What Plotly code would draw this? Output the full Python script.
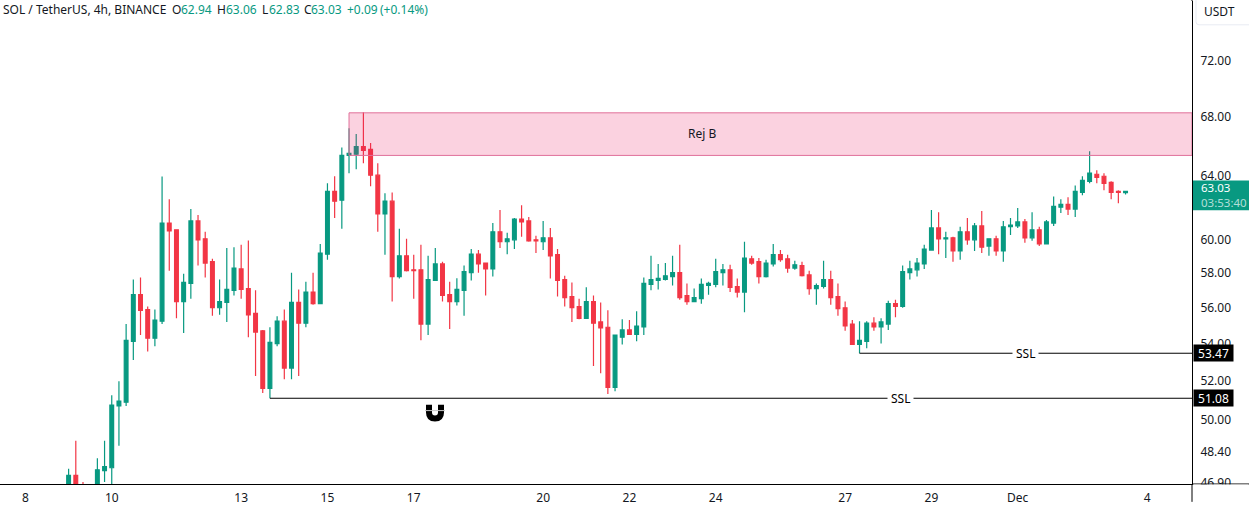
import math

import pandas as pd
import plotly.graph_objects as go

WIDTH, HEIGHT = 1249, 506
PANE_R, PANE_T, PANE_B = 1192, 1, 488
FONT = "Noto Sans"
TEXT = "#131722"
GREEN = "#089981"
RED = "#F23645"

# 4h candles, first visible one is Nov 9 00:00
times = pd.date_range("2023-11-09 00:00", periods=148, freq="4h")
opens = [
    46.40, 47.23, 46.50, 46.20, 46.60, 47.46, 47.60, 50.68, 50.88, 54.12,
    56.75, 55.90, 54.29, 55.24, 61.03, 60.61, 56.35, 57.40, 61.16, 60.06,
    58.68, 56.00, 56.30, 57.00, 58.25, 57.10, 55.68, 54.70, 51.60, 54.00,
    55.24, 52.67, 56.30, 55.13, 56.90, 56.23, 59.13, 63.03, 62.46, 65.37,
    65.45, 65.96, 65.77, 64.07, 61.60, 62.40, 57.80, 59.03, 58.20, 58.20,
    55.08, 57.57, 58.55, 56.75, 56.35, 57.00, 58.03, 59.13, 58.60, 58.25,
    60.49, 59.88, 60.00, 61.28, 61.16, 60.00, 59.88, 60.12, 59.10, 57.63,
    56.64, 56.07, 55.40, 56.35, 55.20, 54.90, 51.65, 54.35, 54.75, 54.50,
    54.92, 57.34, 57.57, 57.63, 57.80, 58.03, 56.70, 56.35, 56.52, 57.28,
    57.34, 58.03, 58.20, 57.22, 56.90, 58.85, 58.68, 57.80, 58.55, 59.10,
    58.85, 58.30, 58.45, 57.90, 57.10, 57.22, 57.63, 56.64, 56.00, 55.08,
    53.95, 54.12, 55.13, 54.92, 55.08, 56.23, 56.07, 58.03, 58.20, 58.55,
    59.38, 60.73, 60.06, 60.12, 59.32, 60.49, 60.00, 60.85, 59.62, 60.06,
    59.32, 60.80, 60.85, 61.10, 60.12, 60.61, 59.75, 61.03, 62.02, 62.20,
    61.90, 62.96, 63.67, 64.13, 64.00, 63.61, 63.03, 62.94,
]
highs = [
    47.55, 48.92, 46.92, 46.70, 48.06, 48.92, 51.24, 51.97, 55.08, 57.63,
    57.75, 56.07, 55.90, 63.99, 62.52, 60.61, 57.97, 61.90, 61.53, 60.49,
    58.85, 57.63, 59.50, 59.55, 59.70, 59.95, 57.00, 54.75, 54.90, 55.52,
    55.90, 58.03, 57.05, 57.50, 58.03, 59.75, 63.54, 64.00, 65.90, 67.20,
    66.80, 68.30, 66.20, 64.85, 62.90, 62.96, 60.67, 60.06, 59.10, 59.70,
    59.03, 59.50, 58.68, 57.50, 57.70, 58.45, 59.44, 59.38, 58.60, 61.03,
    61.84, 60.43, 61.35, 62.15, 61.41, 60.24, 61.16, 60.73, 59.44, 57.85,
    57.46, 56.52, 57.17, 56.70, 56.30, 55.85, 54.50, 55.35, 55.30, 55.80,
    57.75, 59.03, 58.55, 58.60, 59.03, 59.70, 57.40, 57.10, 57.69, 57.50,
    58.85, 58.55, 58.50, 57.69, 59.88, 59.03, 58.90, 58.80, 59.75, 59.38,
    59.10, 58.74, 58.68, 58.15, 57.40, 58.74, 58.15, 57.40, 56.35, 55.30,
    55.24, 55.24, 55.46, 55.40, 56.40, 56.46, 58.45, 58.74, 58.90, 59.70,
    61.84, 61.70, 60.49, 60.18, 60.80, 61.35, 61.03, 61.78, 60.06, 60.24,
    61.16, 61.35, 61.97, 61.28, 61.70, 60.80, 61.22, 62.70, 62.52, 62.65,
    63.41, 64.00, 65.64, 64.40, 64.20, 63.67, 63.09, 63.06,
]
lows = [
    46.20, 46.00, 46.00, 45.80, 46.40, 46.92, 46.60, 48.67, 50.68, 53.10,
    54.47, 53.57, 53.85, 55.08, 58.15, 55.40, 54.58, 56.52, 58.45, 57.75,
    55.55, 55.60, 55.20, 56.70, 56.52, 54.35, 52.25, 51.35, 51.08, 53.85,
    52.08, 52.08, 52.25, 54.90, 56.17, 56.23, 58.80, 61.35, 60.67, 64.20,
    64.46, 64.85, 63.35, 60.49, 59.10, 56.35, 57.69, 58.10, 56.52, 54.18,
    54.47, 57.57, 56.35, 54.80, 56.12, 55.55, 57.57, 58.03, 56.70, 57.80,
    59.50, 59.13, 59.44, 60.18, 59.88, 59.20, 59.38, 57.69, 56.64, 56.07,
    55.20, 55.35, 55.40, 52.78, 52.40, 51.30, 51.45, 53.95, 54.47, 54.12,
    54.47, 57.00, 57.05, 57.57, 57.28, 56.46, 56.17, 56.35, 56.23, 56.75,
    57.17, 57.28, 56.90, 56.58, 55.74, 58.50, 57.40, 57.75, 58.40, 58.68,
    58.03, 58.20, 57.80, 56.75, 56.17, 57.10, 56.17, 55.55, 54.70, 53.95,
    53.47, 53.74, 54.70, 54.00, 54.75, 55.46, 56.00, 57.63, 57.80, 58.25,
    59.38, 59.13, 58.90, 58.68, 58.80, 59.70, 59.32, 59.20, 59.03, 59.03,
    58.68, 60.30, 60.73, 59.82, 59.94, 59.62, 59.75, 60.85, 61.65, 61.53,
    61.41, 62.77, 63.54, 63.54, 63.09, 62.52, 62.27, 62.83,
]
closes = [
    47.23, 46.30, 46.20, 46.60, 47.50, 47.65, 50.73, 50.93, 54.18, 56.75,
    55.85, 54.29, 55.30, 61.03, 60.55, 56.35, 57.46, 61.16, 60.00, 58.60,
    56.00, 56.35, 57.05, 58.30, 57.05, 55.60, 54.63, 51.60, 54.06, 55.24,
    52.67, 56.30, 55.13, 56.90, 56.23, 59.20, 63.03, 62.40, 65.37, 65.50,
    65.96, 65.70, 64.07, 61.60, 62.40, 57.80, 59.03, 58.15, 58.15, 55.08,
    57.63, 58.55, 56.70, 56.35, 57.05, 58.10, 59.13, 58.55, 58.25, 60.49,
    59.88, 60.06, 61.28, 61.10, 59.94, 59.94, 60.12, 59.03, 57.57, 56.58,
    56.00, 55.40, 56.35, 55.13, 54.86, 51.65, 54.47, 54.75, 54.50, 54.97,
    57.40, 57.63, 57.69, 57.85, 58.03, 56.58, 56.35, 56.58, 57.34, 57.40,
    58.10, 58.20, 57.17, 56.90, 58.90, 58.60, 57.80, 58.60, 59.10, 58.80,
    58.30, 58.50, 57.85, 57.10, 57.28, 57.63, 56.58, 55.95, 54.97, 53.95,
    54.18, 55.13, 54.92, 55.20, 56.23, 56.07, 58.10, 58.25, 58.60, 59.44,
    60.73, 60.06, 60.12, 59.32, 60.49, 60.00, 60.85, 59.55, 60.06, 59.32,
    60.80, 60.91, 61.10, 60.12, 60.61, 59.75, 61.10, 62.08, 62.20, 61.90,
    63.03, 63.74, 64.20, 63.93, 63.54, 62.96, 62.96, 63.03,
]

y_tick_vals = [46.9, 48.4, 50, 52, 54, 56, 58, 60, 64, 68, 72]
x_tick_vals = [
    "2023-11-08", "2023-11-10", "2023-11-13", "2023-11-15", "2023-11-17",
    "2023-11-20", "2023-11-22", "2023-11-24", "2023-11-27", "2023-11-29",
    "2023-12-01", "2023-12-04",
]
x_tick_text = ["8", "10", "13", "15", "17", "20", "22", "24", "27", "29", "Dec", "4"]

zone_low, zone_high = 65.37, 68.26
zone_start = "2023-11-15 12:00"
ssl_lines = [("2023-11-13 16:00", 51.08, 900), ("2023-11-27 08:00", 53.47, 1025)]
last_price = 63.03
x_range = ["2023-11-07 09:50", "2023-12-05 00:58"]
y_range = [46.82, 76.47]

# header pieces: text, colour, left edge in px
header = [
    ("SOL / TetherUS, 4h, BINANCE", TEXT, 1),
    ("O", TEXT, 170), ("62.94", GREEN, 179),
    ("H", TEXT, 215), ("63.06", GREEN, 224),
    ("L", TEXT, 260), ("62.83", GREEN, 267),
    ("C", TEXT, 302), ("63.03", GREEN, 309),
    ("+0.09", GREEN, 345), ("(+0.14%)", GREEN, 378),
]


def px(x, y):
    """Pixel position in the page to paper coordinates."""
    return x / PANE_R, (PANE_B - y) / (PANE_B - PANE_T)


def note(text, x, y, color=TEXT, size=12, **kwargs):
    xp, yp = px(x, y)
    return dict(
        text=text, x=xp, y=yp, xref="paper", yref="paper", showarrow=False,
        font=dict(family=FONT, size=size, color=color), **kwargs,
    )


def pane_shape(**kwargs):
    return dict(xref="paper", yref="paper", **kwargs)


fig = go.Figure()
fig.add_trace(
    go.Candlestick(
        x=times, open=opens, high=highs, low=lows, close=closes,
        increasing=dict(line=dict(color=GREEN, width=1.2), fillcolor=GREEN),
        decreasing=dict(line=dict(color=RED, width=1.2), fillcolor=RED),
        whiskerwidth=0,
        hoverinfo="skip",
    )
)
for start, price, _ in ssl_lines:
    fig.add_trace(
        go.Scatter(
            x=[start, x_range[1]], y=[price, price], mode="lines",
            line=dict(color="black", width=1), hoverinfo="skip",
        )
    )

annotations = []
for text, color, left in header:
    annotations.append(note(text, left, 10, color=color, size=12, xanchor="left", yanchor="middle"))
annotations.append(note("Rej B", 702, 135, xanchor="center", yanchor="middle"))
for _, price, centre in ssl_lines:
    annotations.append(
        dict(
            text="SSL", x=centre / PANE_R, y=math.log10(price), xref="paper", yref="y",
            xanchor="center", yanchor="middle", showarrow=False, bgcolor="white", borderpad=3,
            font=dict(family=FONT, size=12, color="black"),
        )
    )
    annotations.append(
        dict(
            text=f"{price:.2f}", x=1193 / PANE_R, y=math.log10(price), xref="paper", yref="y",
            xanchor="left", yanchor="middle", showarrow=False, bgcolor="black", width=37, height=14,
            font=dict(family=FONT, size=12, color="white"),
        )
    )
# last price and countdown share one text block on the green tag
annotations.append(
    note(
        f"{last_price:.2f}<br><span style='color:rgba(255,255,255,0.7)'>03:53:40</span>",
        1199, 197, color="white", size=11.5, xanchor="left", yanchor="middle", align="left",
    )
)
# hide the part of the lowest tick label under the time axis
annotations.append(note(" ", 1193, 488, xanchor="left", yanchor="top", bgcolor="white", width=52, height=14))
annotations.append(note("USDT", 1219, 12, xanchor="center", yanchor="middle"))

shapes = [
    dict(
        type="rect", xref="x", yref="y", x0=zone_start, x1=x_range[1], y0=zone_low, y1=zone_high,
        fillcolor="rgba(233,30,99,0.2)", line=dict(color="#E0709A", width=1), layer="above",
    ),
    # axis rules that run past the pane
    pane_shape(type="line", x0=1, x1=WIDTH / PANE_R, y0=0, y1=0, line=dict(color="black", width=1)),
    pane_shape(type="line", x0=1, x1=1, y0=0, y1=px(0, HEIGHT)[1], line=dict(color="black", width=1)),
    pane_shape(type="line", x0=1, x1=1, y0=1, y1=px(0, 0)[1], line=dict(color="black", width=1)),
]
# green last price tag
x0, y0 = px(1193, 182)
x1, y1 = px(1249, 212)
shapes.append(pane_shape(type="rect", x0=x0, x1=x1, y0=y0, y1=y1, fillcolor=GREEN, line=dict(width=0), layer="above"))
# USDT button
a, b = px(1196, -2)
c, d = px(1196, 22)
e, f = px(1199, 25)
g, h = px(1252, 25)
i, j = px(1252, -2)
shapes.append(
    pane_shape(type="path", path=f"M {a},{b} L {c},{d} Q {c},{f} {e},{f} L {g},{h} L {i},{j}",
               line=dict(color="#E8EBF3", width=1), layer="above")
)
# magnet icon
a, b = px(429, 408)
c, d = px(429, 416)
e, f = px(435, 422)
g, h = px(441, 416)
i, j = px(441, 408)
shapes.append(
    pane_shape(type="path", path=f"M {a},{b} L {c},{d} Q {c},{f} {e},{f} Q {g},{f} {g},{h} L {i},{j}",
               line=dict(color="black", width=6))
)
a, b = px(425, 414)
c, d = px(445, 414)
shapes.append(pane_shape(type="line", x0=a, x1=c, y0=b, y1=d, line=dict(color="#C8C8C8", width=1)))

fig.update_layout(
    width=WIDTH,
    height=HEIGHT,
    margin=dict(l=0, r=WIDTH - PANE_R, t=PANE_T, b=HEIGHT - PANE_B, pad=0),
    paper_bgcolor="white",
    plot_bgcolor="white",
    showlegend=False,
    boxgap=0.25,
    font=dict(family=FONT, size=12, color=TEXT),
    annotations=annotations,
    shapes=shapes,
    xaxis=dict(
        type="date", range=x_range, rangeslider_visible=False,
        tickmode="array", tickvals=x_tick_vals, ticktext=x_tick_text, tickangle=0,
        showgrid=False, zeroline=False, showline=True, linecolor="black", linewidth=1,
        ticks="", ticklabelstandoff=3,
    ),
    yaxis=dict(
        type="log", side="right", range=[math.log10(v) for v in y_range],
        tickmode="array", tickvals=y_tick_vals, ticktext=[f"{v:.2f}" for v in y_tick_vals],
        showgrid=False, zeroline=False, showline=True, linecolor="black", linewidth=1,
        ticks="", ticklabelstandoff=5,
    ),
)

fig.write_html(
    "out.html",
    config=dict(displayModeBar=False),
    post_script="document.body.style.margin='0';document.body.style.overflow='hidden';",
)
